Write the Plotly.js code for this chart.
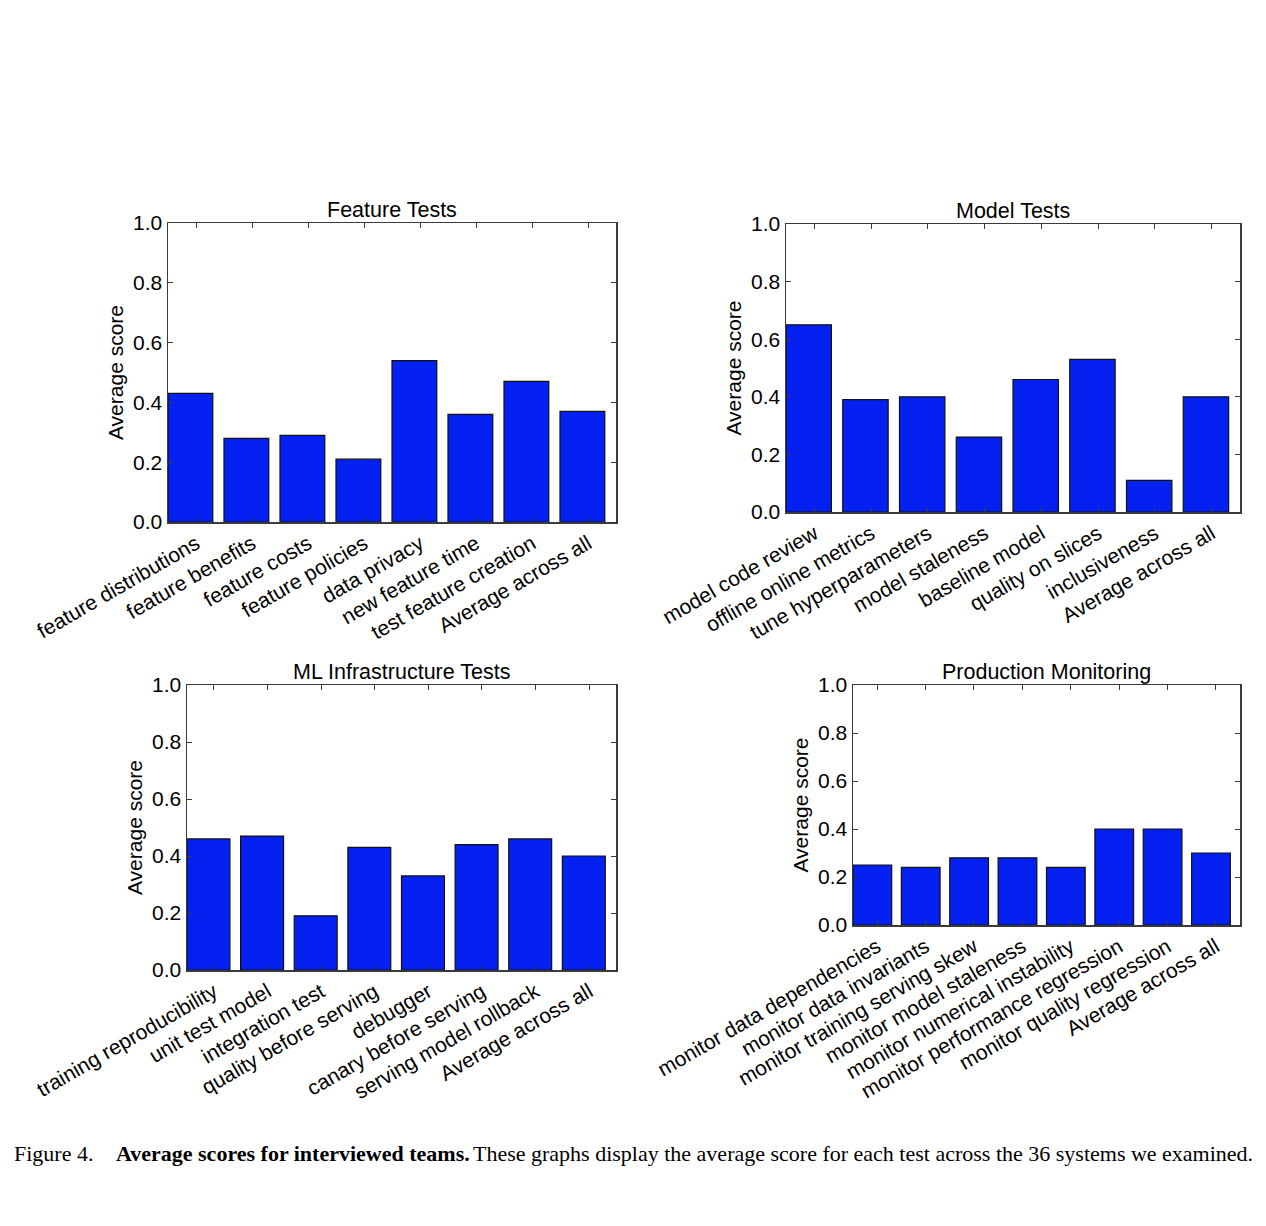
<!DOCTYPE html>
<html><head><meta charset="utf-8">
<script src="https://cdn.plot.ly/plotly-3.0.1.min.js"></script>
<style>html,body{margin:0;padding:0;background:#fff}</style>
</head><body><div id="chart" style="width:1266px;height:1226px"></div>
<script>
const yLabel = "Average score";
const yTicks = [0, 0.2, 0.4, 0.6, 0.8, 1.0];

const featureTitle = "Feature Tests";
const featureLabels = ["feature distributions", "feature benefits", "feature costs", "feature policies", "data privacy", "new feature time", "test feature creation", "Average across all"];
const featureScores = [0.43, 0.28, 0.29, 0.21, 0.54, 0.36, 0.47, 0.37];

const modelTitle = "Model Tests";
const modelLabels = ["model code review", "offline online metrics", "tune hyperparameters", "model staleness", "baseline model", "quality on slices", "inclusiveness", "Average across all"];
const modelScores = [0.65, 0.39, 0.40, 0.26, 0.46, 0.53, 0.11, 0.40];

const infraTitle = "ML Infrastructure Tests";
const infraLabels = ["training reproducibility", "unit test model", "integration test", "quality before serving", "debugger", "canary before serving", "serving model rollback", "Average across all"];
const infraScores = [0.46, 0.47, 0.19, 0.43, 0.33, 0.44, 0.46, 0.40];

const monitorTitle = "Production Monitoring";
const monitorLabels = ["monitor data dependencies", "monitor data invariants", "monitor training serving skew", "monitor model staleness", "monitor numerical instability", "monitor performance regression", "monitor quality regression", "Average across all"];
const monitorScores = [0.25, 0.24, 0.28, 0.28, 0.24, 0.40, 0.40, 0.30];

const captionLead = "Figure 4.";
const captionBold = "Average scores for interviewed teams.";
const captionRest = "These graphs display the average score for each test across the 36 systems we examined.";

const W = 1266, H = 1226;
const FONT = "Liberation Sans, Arial, sans-serif";
const FS = 21;
const panels = [
  {title: featureTitle, labels: featureLabels, values: featureScores, box: [168, 616, 223, 522]},
  {title: modelTitle, labels: modelLabels, values: modelScores, box: [786, 1240, 224, 512]},
  {title: infraTitle, labels: infraLabels, values: infraScores, box: [187, 616, 685, 970]},
  {title: monitorTitle, labels: monitorLabels, values: monitorScores, box: [853, 1240, 685, 925]}
];

const data = [];
const layout = {
  width: W, height: H,
  margin: {l: 0, r: 0, t: 0, b: 0},
  paper_bgcolor: "#fff", plot_bgcolor: "#fff",
  showlegend: false,
  font: {family: FONT, size: FS, color: "#000"},
  annotations: []
};

panels.forEach((p, k) => {
  const n = k === 0 ? "" : String(k + 1);
  const [x0, x1, y0, y1] = p.box;
  const idx = p.labels.map((_, i) => i);
  data.push({
    type: "bar",
    x: idx.map(i => i + 0.4),
    y: p.values,
    width: idx.map(() => 0.8),
    marker: {color: "#0421f2", line: {color: "#111", width: 1.2}},
    xaxis: "x" + n, yaxis: "y" + n,
    hoverinfo: "skip"
  });
  const common = {
    showline: true, linecolor: "#3a3a3a", linewidth: 1.5, mirror: "allticks",
    ticks: "inside", ticklen: 5, tickcolor: "#3a3a3a", tickwidth: 1,
    showgrid: false, zeroline: false, fixedrange: true,
    tickfont: {family: FONT, size: FS, color: "#000"}
  };
  layout["xaxis" + n] = Object.assign({}, common, {
    domain: [x0 / W, x1 / W],
    anchor: "y" + n,
    range: [0, p.labels.length],
    tickmode: "array",
    tickvals: idx.map(i => i + 0.5),
    ticktext: p.labels,
    tickangle: -30
  });
  layout["yaxis" + n] = Object.assign({}, common, {
    domain: [1 - y1 / H, 1 - y0 / H],
    anchor: "x" + n,
    range: [0, 1],
    tickmode: "array",
    tickvals: yTicks,
    tickformat: ".1f",
    title: {text: yLabel, font: {family: FONT, size: FS, color: "#000"}, standoff: 3}
  });
  layout.annotations.push({
    text: p.title, xref: "paper", yref: "paper",
    x: (x0 + x1) / 2 / W, y: 1 - y0 / H,
    xanchor: "center", yanchor: "bottom", yshift: -1,
    showarrow: false, font: {family: FONT, size: 21.5, color: "#000"}
  });
});

const SERIF = "Liberation Serif, Times New Roman, serif";
const CS = 22;
layout.annotations.push(
  {text: captionLead, xref: "paper", yref: "paper", x: 12 / W, y: 1 - 1153 / H,
   xanchor: "left", yanchor: "middle", showarrow: false, font: {family: SERIF, size: CS, color: "#000"}},
  {text: "<b>" + captionBold + "</b>", xref: "paper", yref: "paper", x: 114 / W, y: 1 - 1153 / H,
   xanchor: "left", yanchor: "middle", showarrow: false, font: {family: SERIF, size: CS, color: "#000"}},
  {text: captionRest, xref: "paper", yref: "paper", x: 1255 / W, y: 1 - 1153 / H,
   xanchor: "right", yanchor: "middle", showarrow: false, font: {family: SERIF, size: CS, color: "#000"}}
);

Plotly.newPlot("chart", data, layout, {displayModeBar: false, staticPlot: true});
</script>
</body></html>
